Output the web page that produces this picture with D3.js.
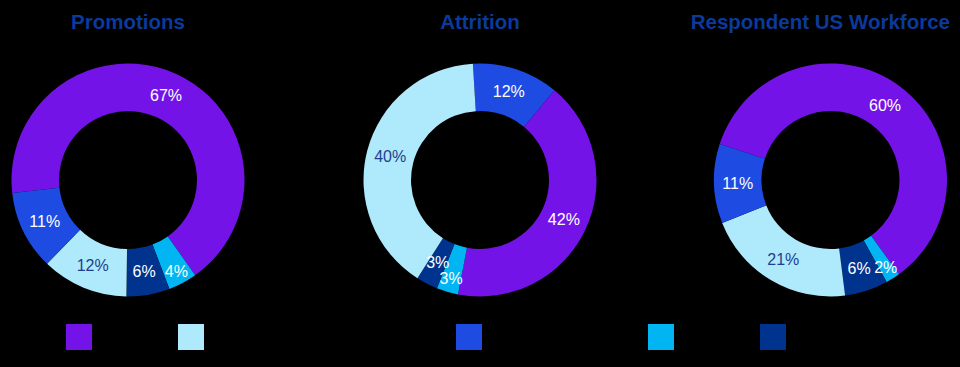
<!DOCTYPE html>
<html>
<head>
<meta charset="utf-8">
<script src="https://cdn.jsdelivr.net/npm/d3@7"></script>
<style>
  html, body { margin: 0; padding: 0; background: #000; }
  svg { display: block; font-family: "Liberation Sans", Arial, sans-serif; }
</style>
</head>
<body>
<div id="chart"></div>
<script>
// legend categories (labels are drawn in black, as in the original)
const categories = ["White", "Black or African American", "Hispanic or Latino", "Asian", "Other"];
const colors = ["#7413e8", "#afe9fc", "#1e4be2", "#00b5f1", "#00338d"];

const titles = ["Promotions", "Attrition", "Respondent US Workforce"];

// values per category, same order as categories
const promotions = [67, 12, 11, 4, 6];
const attrition = [42, 40, 12, 3, 3];
const workforce = [60, 21, 11, 2, 6];

// clockwise slice order as drawn in each donut (category indexes)
const promotionsOrder = [0, 3, 4, 1, 2];
const attritionOrder = [2, 0, 3, 4, 1];
const workforceOrder = [0, 3, 4, 1, 2];

// first slice angle in degrees
const startAngles = [263.6, -3.5, 288];

const width = 960, height = 367;
const outerR = 116.5, innerR = 69;
const centers = [[128, 180], [480, 180], [830.5, 180]];

const svg = d3.select("#chart")
  .append("svg")
    .attr("width", width)
    .attr("height", height);

svg.append("rect")
  .attr("width", width)
  .attr("height", height)
  .attr("fill", "#000");

const color = d3.scaleOrdinal().domain(categories).range(colors);

const arc = d3.arc().innerRadius(innerR).outerRadius(outerR);
// the thin cyan slices get their labels pushed a bit outward
const outerLabelArc = d3.arc().innerRadius(103).outerRadius(103);

const series = [
  { title: titles[0], values: promotions, order: promotionsOrder },
  { title: titles[1], values: attrition, order: attritionOrder },
  { title: titles[2], values: workforce, order: workforceOrder }
];

series.forEach((s, i) => {
  const [cx, cy] = centers[i];
  const a0 = startAngles[i] * Math.PI / 180;

  const pie = d3.pie()
    .sort(null)
    .value(d => d.value)
    .startAngle(a0)
    .endAngle(a0 + 2 * Math.PI);

  const data = s.order.map(k => ({ cat: categories[k], value: s.values[k] }));

  const g = svg.append("g")
    .attr("transform", `translate(${cx}, ${cy})`);

  const arcs = pie(data);

  g.selectAll("path")
    .data(arcs)
    .enter()
    .append("path")
      .attr("d", arc)
      .attr("fill", d => color(d.data.cat));

  g.selectAll("text.pct")
    .data(arcs)
    .enter()
    .append("text")
      .attr("class", "pct")
      .attr("transform", d => {
        const [x, y] = d.data.cat === categories[3] ? outerLabelArc.centroid(d) : arc.centroid(d);
        return `translate(${x}, ${y})`;
      })
      .attr("text-anchor", "middle")
      .attr("dy", "0.35em")
      .attr("font-size", 16)
      .attr("fill", d => d.data.cat === categories[1] ? "#1f3f8c" : "#fff")
      .text(d => `${d.value}%`);

  // title
  const t = svg.append("text")
    .attr("y", 29)
    .attr("text-anchor", "middle")
    .attr("font-size", 20.5)
    .attr("font-weight", "bold")
    .attr("fill", "#0b3a9c")
    .text(s.title);
  const tw = t.node().getComputedTextLength();
  t.attr("x", Math.min(cx, 950 - tw / 2));
});

// legend
const legendX = [66, 178, 456, 648, 760];
const legend = svg.append("g").attr("class", "legend");
categories.forEach((c, i) => {
  legend.append("rect")
    .attr("x", legendX[i])
    .attr("y", 324)
    .attr("width", 26)
    .attr("height", 26)
    .attr("fill", color(c));
  legend.append("text")
    .attr("x", legendX[i] + 32)
    .attr("y", 343)
    .attr("font-size", 16)
    .attr("fill", "#000")
    .text(c);
});
</script>
</body>
</html>
